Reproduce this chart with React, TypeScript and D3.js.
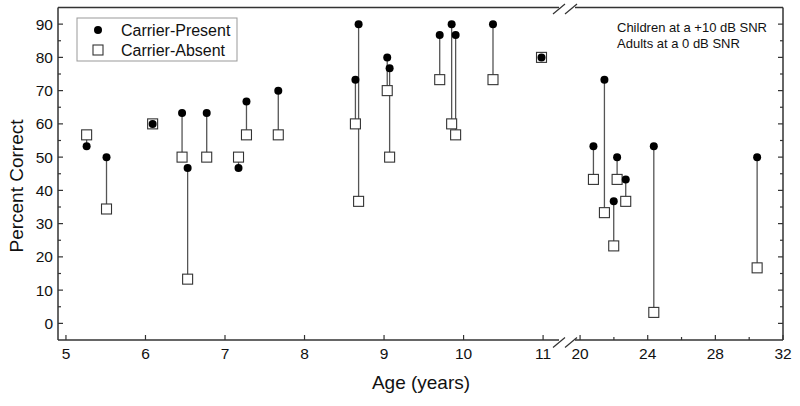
import React from "react";
import * as d3 from "d3";

const ages = [5.26, 5.51, 6.09, 6.46, 6.53, 6.77, 7.17, 7.27, 7.67, 8.64, 8.68, 9.04, 9.07, 9.70, 9.85, 9.90, 10.37, 10.98, 20.79, 21.44, 21.99, 22.19, 22.70, 24.36, 30.47];
const present = [53.3, 50, 60, 63.3, 46.7, 63.3, 46.7, 66.7, 70, 73.3, 90, 80, 76.7, 86.7, 90, 86.7, 90, 80, 53.3, 73.3, 36.7, 50, 43.3, 53.3, 50];
const absent = [56.7, 34.4, 60, 50, 13.3, 50, 50, 56.7, 56.7, 60, 36.7, 70, 50, 73.3, 60, 56.7, 73.3, 80, 43.3, 33.3, 23.3, 43.3, 36.7, 3.3, 16.7];
const leftTicks = [5, 6, 7, 8, 9, 10, 11];
const rightTicks = [20, 24, 28, 32];
const rightMinor = [22, 26, 30];
const yTicks = [0, 10, 20, 30, 40, 50, 60, 70, 80, 90];
const yMinor = [5, 15, 25, 35, 45, 55, 65, 75, 85];

const L = 58, R = 783, T = 7.5, B = 340;
const BL = 559, BR = 575;
const FONT = "Liberation Sans, Arial, sans-serif";

export default function App() {
  const xl = d3.scaleLinear().domain([4.9, 11.2]).range([L, BL]);
  const xr = d3.scaleLinear().domain([19.7, 32]).range([BR, R]);
  const y = d3.scaleLinear().domain([-5, 95]).range([B, T]);
  const xs = (a: number) => (a > 15 ? xr(a) : xl(a));
  const ax = "#333";
  const slash = (cx: number, cy: number, k: string) => (
    <line key={k} x1={cx - 6} y1={cy + 5} x2={cx + 6} y2={cy - 5} stroke={ax} strokeWidth={1.2} />
  );
  return (
    <div style={{ position: "absolute", left: 0, top: 0 }}>
      <svg width={800} height={406} style={{ display: "block", background: "#fff" }}>
        {/* frame */}
        <line x1={L} y1={T} x2={L} y2={B} stroke={ax} strokeWidth={1.5} />
        <line x1={R} y1={T} x2={R} y2={B} stroke={ax} strokeWidth={1.5} />
        <line x1={L} y1={B} x2={BL} y2={B} stroke={ax} strokeWidth={1.5} />
        <line x1={BR} y1={B} x2={R} y2={B} stroke={ax} strokeWidth={1.5} />
        <line x1={L} y1={T} x2={BL} y2={T} stroke={ax} strokeWidth={1.5} />
        <line x1={BR} y1={T} x2={R} y2={T} stroke={ax} strokeWidth={1.5} />
        {slash(559, B + 2.5, "s1")}
        {slash(571, B + 2.5, "s2")}
        {slash(559, T + 1.5, "s3")}
        {slash(571, T + 1.5, "s4")}
        {/* y ticks */}
        {yTicks.map((v) => (
          <g key={"y" + v}>
            <line x1={L} x2={L + 5} y1={y(v)} y2={y(v)} stroke={ax} strokeWidth={1.2} />
            <line x1={R} x2={R - 5} y1={y(v)} y2={y(v)} stroke={ax} strokeWidth={1.2} />
            <text x={L - 5} y={y(v)} dy="0.36em" textAnchor="end" fontSize={15.5} fontFamily={FONT} fill="#111">{v}</text>
          </g>
        ))}
        {yMinor.map((v) => (
          <g key={"ym" + v}>
            <line x1={L} x2={L + 3} y1={y(v)} y2={y(v)} stroke={ax} strokeWidth={1.2} />
            <line x1={R} x2={R - 3} y1={y(v)} y2={y(v)} stroke={ax} strokeWidth={1.2} />
          </g>
        ))}
        {/* x ticks */}
        {leftTicks.map((v) => (
          <g key={"xl" + v}>
            <line x1={xl(v)} x2={xl(v)} y1={B} y2={B - 5} stroke={ax} strokeWidth={1.2} />
            <text x={xl(v)} y={B + 19} textAnchor="middle" fontSize={15.5} fontFamily={FONT} fill="#111">{v}</text>
          </g>
        ))}
        {rightTicks.map((v) => (
          <g key={"xr" + v}>
            <line x1={xr(v)} x2={xr(v)} y1={B} y2={B - 5} stroke={ax} strokeWidth={1.2} />
            <text x={xr(v)} y={B + 19} textAnchor="middle" fontSize={15.5} fontFamily={FONT} fill="#111">{v}</text>
          </g>
        ))}
        {rightMinor.map((v) => (
          <line key={"xm" + v} x1={xr(v)} x2={xr(v)} y1={B} y2={B - 3} stroke={ax} strokeWidth={1.2} />
        ))}
        {/* axis titles */}
        <text x={421} y={389} textAnchor="middle" fontSize={19} fontFamily={FONT} fill="#111">Age (years)</text>
        <text transform={`translate(23,186) rotate(-90)`} textAnchor="middle" fontSize={19} fontFamily={FONT} fill="#111">Percent Correct</text>
        {/* connectors */}
        {ages.map((a, i) => (
          <line key={"c" + i} x1={xs(a)} x2={xs(a)} y1={y(present[i])} y2={y(absent[i])} stroke="#555" strokeWidth={1.3} />
        ))}
        {ages.map((a, i) => (
          <rect key={"a" + i} x={xs(a) - 5} y={y(absent[i]) - 5} width={10} height={10} fill="#fff" stroke="#333" strokeWidth={1.1} />
        ))}
        {ages.map((a, i) => (
          <circle key={"p" + i} cx={xs(a)} cy={y(present[i])} r={4} fill="#000" />
        ))}
        {/* legend */}
        <rect x={77} y={18} width={160} height={43} fill="#fff" stroke="#999" strokeWidth={1} />
        <circle cx={98} cy={30} r={4} fill="#000" />
        <text x={121} y={30} dy="0.36em" fontSize={16} fontFamily={FONT} fill="#111">Carrier-Present</text>
        <rect x={93} y={45} width={10} height={10} fill="#fff" stroke="#333" strokeWidth={1.1} />
        <text x={121} y={50} dy="0.36em" fontSize={16} fontFamily={FONT} fill="#111">Carrier-Absent</text>
        {/* annotation */}
        <text x={617} y={27.5} dy="0.36em" fontSize={13} fontFamily={FONT} fill="#111">Children at a +10 dB SNR</text>
        <text x={617} y={43.5} dy="0.36em" fontSize={13} fontFamily={FONT} fill="#111">Adults at a 0 dB SNR</text>
      </svg>
    </div>
  );
}
